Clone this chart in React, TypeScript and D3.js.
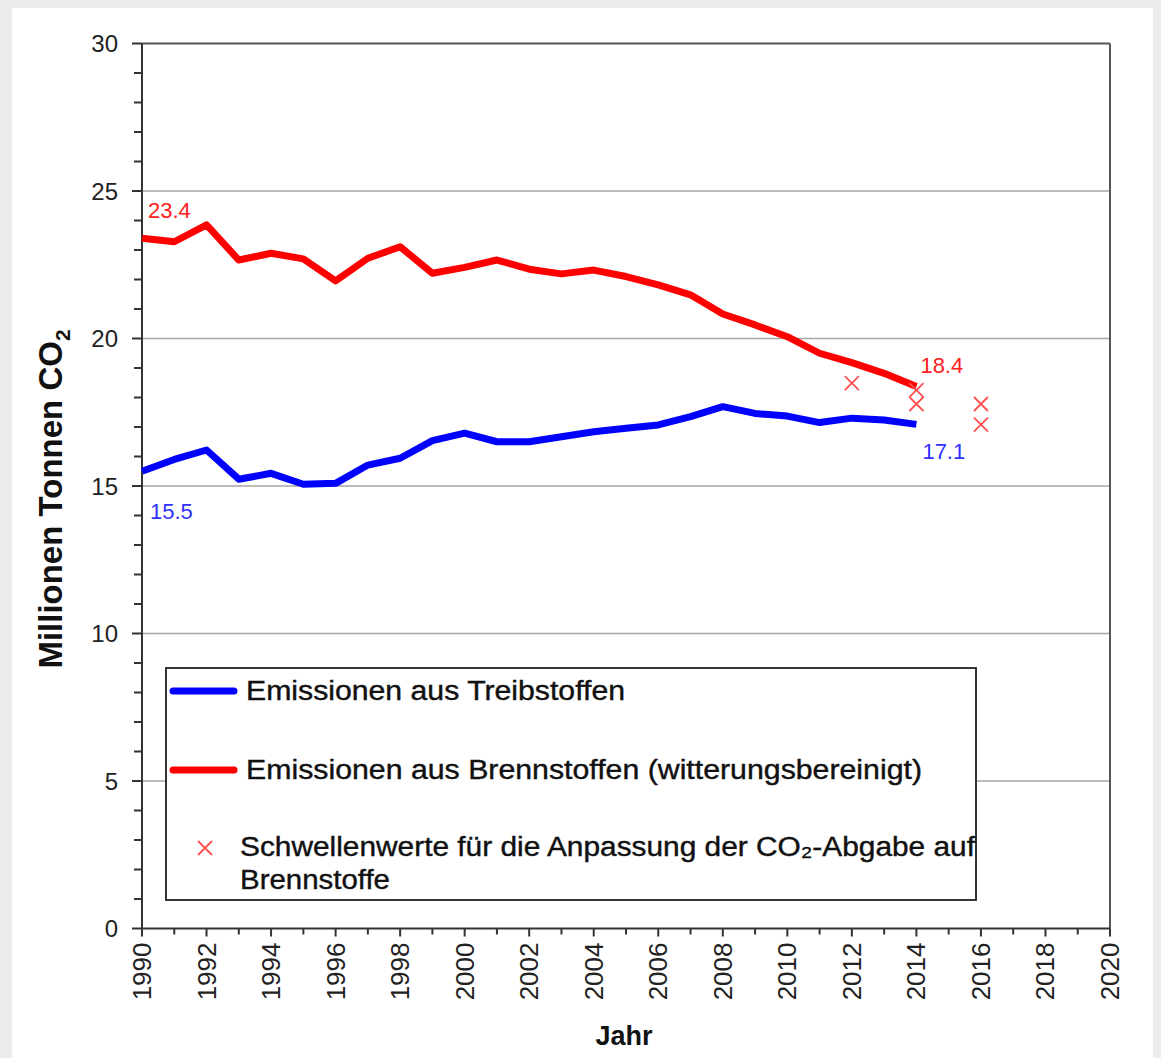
import React from "react";
import * as d3 from "d3";

const years = d3.range(1990, 2015);
const brennstoffe = [23.4, 23.28, 23.85, 22.66, 22.89, 22.7, 21.95, 22.72, 23.11, 22.21, 22.41, 22.66, 22.35, 22.19, 22.32, 22.1, 21.82, 21.48, 20.83, 20.46, 20.06, 19.5, 19.18, 18.82, 18.37];
const treibstoffe = [15.5, 15.9, 16.22, 15.23, 15.43, 15.06, 15.09, 15.71, 15.94, 16.54, 16.79, 16.5, 16.5, 16.67, 16.84, 16.96, 17.07, 17.35, 17.69, 17.46, 17.37, 17.15, 17.3, 17.24, 17.09];
const thresholdYears = [2012, 2014, 2014, 2016, 2016];
const thresholdValues = [18.49, 18.25, 17.78, 17.78, 17.08];
const yTicks = [0, 5, 10, 15, 20, 25, 30];
const xLabelYears = d3.range(1990, 2021, 2);
const legendLabels = [
  "Emissionen aus Treibstoffen",
  "Emissionen aus Brennstoffen (witterungsbereinigt)",
  "Schwellenwerte für die Anpassung der CO₂-Abgabe auf",
  "Brennstoffe",
];

const W = 1161;
const H = 1058;
const FONT = "'Liberation Sans', Arial, sans-serif";
const NARROW = "'Liberation Sans Narrow', 'Arial Narrow', 'Liberation Sans', sans-serif";

export default function App() {
  const x = d3.scaleLinear().domain([1990, 2020]).range([142, 1110]);
  const y = d3.scaleLinear().domain([0, 30]).range([928.5, 43.5]);
  const line = d3
    .line<number>()
    .x((_, i) => x(years[i]))
    .y((v) => y(v));

  const minorY = d3.range(0, 31, 1);
  const minorX = d3.range(1990, 2021, 1);
  const cross = (cx: number, cy: number, s: number) =>
    `M${cx - s},${cy - s}L${cx + s},${cy + s}M${cx - s},${cy + s}L${cx + s},${cy - s}`;

  return (
    <svg
      width={W}
      height={H}
      style={{ position: "absolute", left: 0, top: 0, display: "block" }}
    >
      <rect x={0} y={0} width={W} height={H} fill="#ececec" />
      <rect x={12} y={8} width={1141} height={H - 8} fill="#ffffff" />

      {/* gridlines */}
      {yTicks.slice(1, -1).map((t) => (
        <line key={"g" + t} x1={x(1990)} x2={x(2020)} y1={y(t)} y2={y(t)} stroke="#a6a6a6" strokeWidth={1.5} />
      ))}
      {/* frame top & right */}
      <line x1={x(1990)} x2={x(2020)} y1={y(30)} y2={y(30)} stroke="#555" strokeWidth={2} />
      <line x1={x(2020)} x2={x(2020)} y1={y(30)} y2={y(0)} stroke="#555" strokeWidth={2} />

      {/* y axis */}
      <line x1={x(1990)} x2={x(1990)} y1={y(30)} y2={y(0) + 7} stroke="#333" strokeWidth={2} />
      {minorY.map((t) => (
        <line key={"yt" + t} x1={x(1990) - (t % 5 === 0 ? 10 : 8)} x2={x(1990)} y1={y(t)} y2={y(t)} stroke="#333" strokeWidth={2} />
      ))}
      {yTicks.map((t) => (
        <text key={"yl" + t} x={118} y={y(t)} textAnchor="end" dominantBaseline="central" fontFamily={FONT} fontSize={24} fill="#222">
          {t}
        </text>
      ))}

      {/* x axis */}
      <line x1={x(1990)} x2={x(2020)} y1={y(0)} y2={y(0)} stroke="#333" strokeWidth={2} />
      {minorX.map((t) => (
        <line key={"xt" + t} x1={x(t)} x2={x(t)} y1={y(0)} y2={y(0) + (t % 2 === 0 ? 8 : 6)} stroke="#333" strokeWidth={2} />
      ))}
      {xLabelYears.map((t) => (
        <text
          key={"xl" + t}
          transform={`translate(${x(t)},${y(0) + 14}) rotate(-90)`}
          textAnchor="end"
          dominantBaseline="central"
          fontFamily={FONT}
          fontSize={26}
          fill="#222"
        >
          {t}
        </text>
      ))}
      <text x={(x(1990) + x(2020)) / 2 - 2} y={1045} textAnchor="middle" fontFamily={FONT} fontWeight="bold" fontSize={27} fill="#111">
        Jahr
      </text>
      <text transform={`translate(62,${y(15) + 13}) rotate(-90)`} textAnchor="middle" fontFamily={FONT} fontWeight="bold" fontSize={33} fill="#111">
        Millionen Tonnen CO<tspan fontSize={21} dy={8}>2</tspan>
      </text>

      {/* series */}
      <path d={line(brennstoffe) || ""} fill="none" stroke="#ff0000" strokeWidth={7} strokeLinejoin="round" />
      <path d={line(treibstoffe) || ""} fill="none" stroke="#0000ff" strokeWidth={7} strokeLinejoin="round" />
      {thresholdYears.map((yr, i) => (
        <path key={"th" + i} d={cross(x(yr), y(thresholdValues[i]), 7)} stroke="#ff5050" strokeWidth={1.8} fill="none" />
      ))}

      {/* value labels */}
      <text x={x(1990) + 6} y={y(brennstoffe[0]) - 20} fontFamily={FONT} fontSize={22} fill="#ff2020">
        {brennstoffe[0].toFixed(1)}
      </text>
      <text x={x(2014) + 4} y={y(brennstoffe[24]) - 14} fontFamily={FONT} fontSize={22} fill="#ff2020">
        {brennstoffe[24].toFixed(1)}
      </text>
      <text x={x(1990) + 8} y={y(treibstoffe[0]) + 48} fontFamily={FONT} fontSize={22} fill="#3030ff">
        {treibstoffe[0].toFixed(1)}
      </text>
      <text x={x(2014) + 6} y={y(treibstoffe[24]) + 35} fontFamily={FONT} fontSize={22} fill="#3030ff">
        {treibstoffe[24].toFixed(1)}
      </text>

      {/* legend */}
      <rect x={166} y={668} width={810} height={232} fill="#fff" stroke="#333" strokeWidth={2} />
      <line x1={173} x2={234} y1={691} y2={691} stroke="#0000ff" strokeWidth={7} strokeLinecap="round" />
      <line x1={173} x2={234} y1={770} y2={770} stroke="#ff0000" strokeWidth={7} strokeLinecap="round" />
      <path d={cross(205, 848, 7)} stroke="#ff5050" strokeWidth={1.8} fill="none" />
      <text x={246} y={700} fontFamily={NARROW} fontSize={27} fill="#111" stroke="#111" strokeWidth={0.4} textLength={379} lengthAdjust="spacingAndGlyphs">
        {legendLabels[0]}
      </text>
      <text x={246} y={779} fontFamily={NARROW} fontSize={27} fill="#111" stroke="#111" strokeWidth={0.4} textLength={676} lengthAdjust="spacingAndGlyphs">
        {legendLabels[1]}
      </text>
      <text x={240} y={856} fontFamily={NARROW} fontSize={27} fill="#111" stroke="#111" strokeWidth={0.4} textLength={735} lengthAdjust="spacingAndGlyphs">
        {legendLabels[2]}
      </text>
      <text x={240} y={889} fontFamily={NARROW} fontSize={27} fill="#111" stroke="#111" strokeWidth={0.4} textLength={150} lengthAdjust="spacingAndGlyphs">
        {legendLabels[3]}
      </text>
    </svg>
  );
}
